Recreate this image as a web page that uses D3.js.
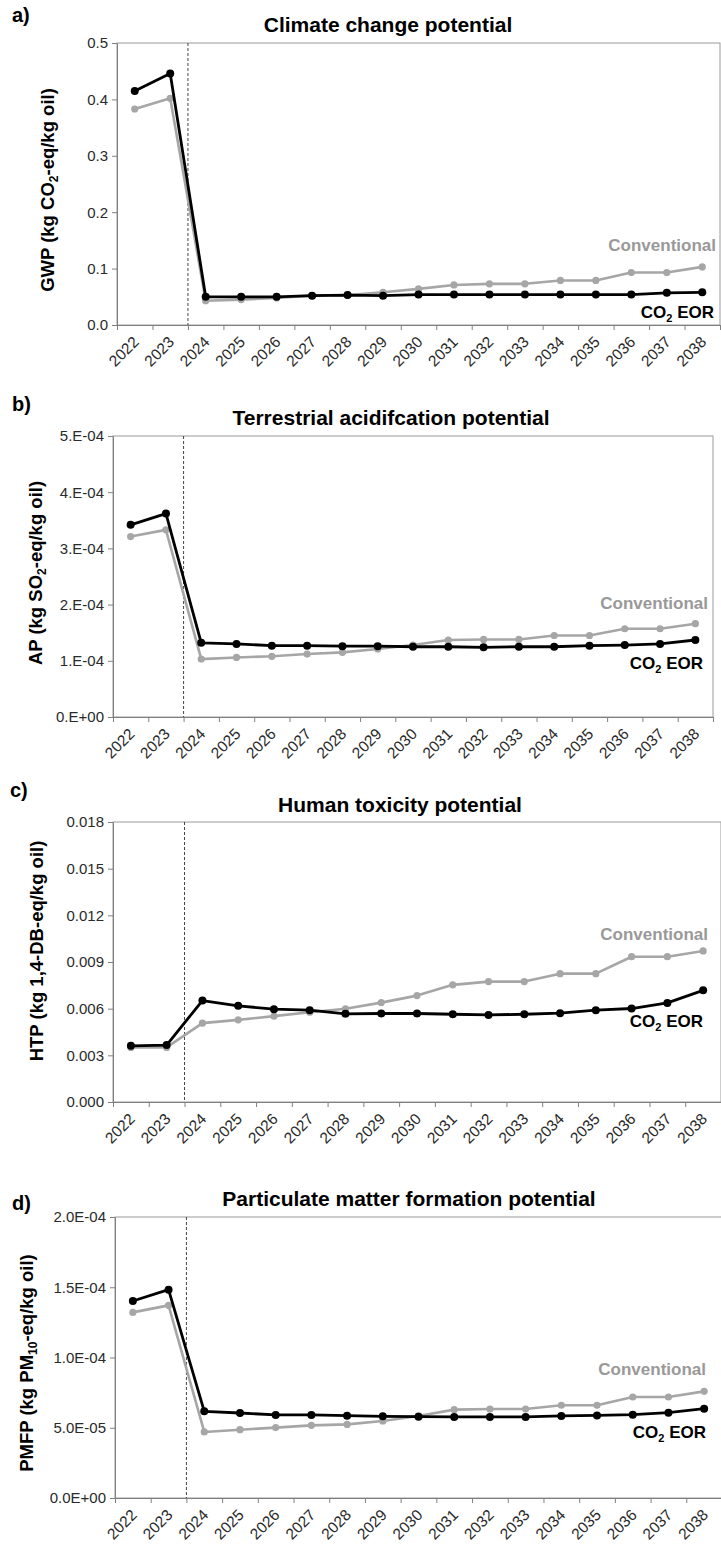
<!DOCTYPE html>
<html>
<head>
<meta charset="utf-8">
<script src="https://cdn.jsdelivr.net/npm/d3@7"></script>
<style>
body { margin: 0; background: #fff; }
svg { display: block; font-family: "Liberation Sans", Arial, sans-serif; }
</style>
</head>
<body>
<script>
var width = 721, height = 1544;

var years = ["2022","2023","2024","2025","2026","2027","2028","2029","2030","2031","2032","2033","2034","2035","2036","2037","2038"];

// a) climate change
var gwpConventional = [0.383,0.402,0.043,0.045,0.048,0.052,0.053,0.058,0.064,0.071,0.073,0.073,0.079,0.079,0.093,0.093,0.103];
var gwpEor = [0.415,0.446,0.050,0.050,0.050,0.052,0.053,0.052,0.054,0.054,0.054,0.054,0.054,0.054,0.054,0.057,0.058];
var gwpTicks = [0,0.1,0.2,0.3,0.4,0.5];
var gwpTickLabels = ["0.0","0.1","0.2","0.3","0.4","0.5"];

// b) acidification
var apConventional = [3.21e-4,3.33e-4,1.03e-4,1.06e-4,1.08e-4,1.12e-4,1.15e-4,1.21e-4,1.28e-4,1.37e-4,1.38e-4,1.38e-4,1.45e-4,1.45e-4,1.57e-4,1.57e-4,1.66e-4];
var apEor = [3.42e-4,3.62e-4,1.32e-4,1.30e-4,1.27e-4,1.27e-4,1.26e-4,1.26e-4,1.25e-4,1.25e-4,1.24e-4,1.25e-4,1.25e-4,1.27e-4,1.28e-4,1.30e-4,1.37e-4];
var apTicks = [0,1e-4,2e-4,3e-4,4e-4,5e-4];
var apTickLabels = ["0.E+00","1.E-04","2.E-04","3.E-04","4.E-04","5.E-04"];

// c) human toxicity
var htpConventional = [0.00351,0.00351,0.00507,0.00528,0.00552,0.00577,0.00599,0.00639,0.00684,0.00753,0.00774,0.00774,0.00825,0.00825,0.00934,0.00934,0.00971];
var htpEor = [0.00361,0.00366,0.00652,0.00618,0.00597,0.00590,0.00567,0.00569,0.00569,0.00564,0.00560,0.00564,0.00571,0.00590,0.00601,0.00637,0.00718];
var htpTicks = [0,0.003,0.006,0.009,0.012,0.015,0.018];
var htpTickLabels = ["0.000","0.003","0.006","0.009","0.012","0.015","0.018"];

// d) particulate matter
var pmfpConventional = [1.321e-4,1.371e-4,0.470e-4,0.486e-4,0.501e-4,0.517e-4,0.524e-4,0.548e-4,0.584e-4,0.629e-4,0.633e-4,0.633e-4,0.660e-4,0.660e-4,0.719e-4,0.719e-4,0.759e-4];
var pmfpEor = [1.402e-4,1.483e-4,0.617e-4,0.605e-4,0.591e-4,0.591e-4,0.586e-4,0.581e-4,0.579e-4,0.577e-4,0.577e-4,0.577e-4,0.584e-4,0.588e-4,0.593e-4,0.607e-4,0.636e-4];
var pmfpTicks = [0,5e-5,1e-4,1.5e-4,2e-4];
var pmfpTickLabels = ["0.0E+00","5.0E-05","1.0E-04","1.5E-04","2.0E-04"];

var panels = [
  {tag:"a)", title:"Climate change potential", yTitle:[["GWP (kg CO",0],["2",1],["-eq/kg oil)",0]],
   conv:gwpConventional, eor:gwpEor, ticks:gwpTicks, tickLabels:gwpTickLabels,
   top:43, bottom:325, left:117, right:720, titleX:388, titleY:32, tagX:12, tagY:22,
   yTitleX:48, yTitleY:190, convLabel:0.1317, eorLabel:0.0119, convRight:716, eorRight:714},
  {tag:"b)", title:"Terrestrial acidifcation potential", yTitle:[["AP (kg SO",0],["2",1],["-eq/kg oil)",0]],
   conv:apConventional, eor:apEor, ticks:apTicks, tickLabels:apTickLabels,
   top:436, bottom:717, left:113, right:713, titleX:391, titleY:425, tagX:12, tagY:411,
   yTitleX:36, yTitleY:573, convLabel:1.93e-4, eorLabel:0.86e-4, convRight:708, eorRight:703},
  {tag:"c)", title:"Human toxicity potential", yTitle:[["HTP (kg 1,4-DB-eq/kg oil)",0]],
   conv:htpConventional, eor:htpEor, ticks:htpTicks, tickLabels:htpTickLabels,
   top:822, bottom:1102, left:113, right:721, titleX:400, titleY:812, tagX:10, tagY:797,
   yTitleX:37, yTitleY:951, convLabel:0.01041, eorLabel:0.00481, convRight:708, eorRight:703},
  {tag:"d)", title:"Particulate matter formation potential", yTitle:[["PMFP (kg PM",0],["10",1],["-eq/kg oil)",0]],
   conv:pmfpConventional, eor:pmfpEor, ticks:pmfpTicks, tickLabels:pmfpTickLabels,
   top:1217, bottom:1498, left:115, right:722, titleX:409, titleY:1206, tagX:12, tagY:1210,
   yTitleX:27, yTitleY:1363, convLabel:0.875e-4, eorLabel:0.426e-4, convRight:706, eorRight:706}
];

var grey = "#a6a6a6";
var axisColor = "#808080";

var svg = d3.select("body")
.append("svg")
.attr("width", width)
.attr("height", height);

panels.forEach(drawPanel);

function drawPanel(p){
  var g = svg.append("g");

  var x = d3.scaleBand().domain(years).range([p.left, p.right]).padding(0);
  var xEdge = d3.scaleLinear().domain([0, years.length]).range([p.left, p.right]);
  var y = d3.scaleLinear().domain([0, p.ticks[p.ticks.length-1]]).range([p.bottom, p.top]);

  // plot area frame
  g.append("rect")
    .attr("x", p.left).attr("y", p.top)
    .attr("width", p.right - p.left).attr("height", p.bottom - p.top)
    .attr("fill", "none").attr("stroke", "#9a9a9a").attr("stroke-width", 1);

  // y axis
  var yAxis = g.append("g")
    .attr("transform", "translate(" + p.left + ",0)")
    .call(d3.axisLeft(y).tickValues(p.ticks)
      .tickFormat(function(d,i){ return p.tickLabels[i]; })
      .tickSizeInner(5).tickSizeOuter(0).tickPadding(4));
  yAxis.select(".domain").attr("stroke", axisColor);
  yAxis.selectAll(".tick line").attr("stroke", axisColor);
  yAxis.selectAll(".tick text")
    .attr("fill", "#2a2a2a").attr("font-size", 15)
    .attr("font-family", "Liberation Sans, Arial, sans-serif");

  // x axis, ticks sit between the years
  var xAxis = g.append("g")
    .attr("transform", "translate(0," + p.bottom + ")")
    .call(d3.axisBottom(xEdge).tickValues(d3.range(years.length + 1))
      .tickFormat("").tickSizeInner(5).tickSizeOuter(0));
  xAxis.select(".domain").attr("stroke", axisColor);
  xAxis.selectAll(".tick line").attr("stroke", axisColor);

  g.selectAll(".yearLabel")
    .data(years)
    .enter().append("text")
    .attr("class", "yearLabel")
    .attr("transform", function(d){
      var cx = x(d) + x.bandwidth()/2 + 5;
      return "translate(" + cx + "," + (p.bottom + 18) + ") rotate(-45)";
    })
    .attr("text-anchor", "end")
    .attr("font-size", 15.5)
    .attr("fill", "#2a2a2a")
    .text(function(d){ return d; });

  // dashed separator between 2023 and 2024
  g.append("line")
    .attr("x1", x("2024")).attr("x2", x("2024"))
    .attr("y1", p.top).attr("y2", p.bottom)
    .attr("stroke", "#444").attr("stroke-width", 1)
    .attr("stroke-dasharray", "3,2");

  var line = d3.line()
    .x(function(d,i){ return x(years[i]) + x.bandwidth()/2; })
    .y(function(d){ return y(d); });

  drawSeries(g, p.conv, grey, 2.6, 3.6, line, x, y);
  drawSeries(g, p.eor, "#000", 2.8, 4, line, x, y);

  // series labels
  g.append("text")
    .attr("x", p.convRight).attr("y", y(p.convLabel))
    .attr("text-anchor", "end").attr("font-size", 17).attr("font-weight", "bold")
    .attr("fill", "#999")
    .text("Conventional");

  var eorLabel = g.append("text")
    .attr("x", p.eorRight).attr("y", y(p.eorLabel))
    .attr("text-anchor", "end").attr("font-size", 17).attr("font-weight", "bold")
    .attr("fill", "#000");
  eorLabel.append("tspan").text("CO");
  eorLabel.append("tspan").attr("font-size", 11).attr("dy", 4).text("2");
  eorLabel.append("tspan").attr("dy", -4).text(" EOR");

  // titles
  g.append("text")
    .attr("x", p.titleX).attr("y", p.titleY)
    .attr("text-anchor", "middle").attr("font-size", 21).attr("font-weight", "bold")
    .text(p.title);

  g.append("text")
    .attr("x", p.tagX).attr("y", p.tagY)
    .attr("font-size", 20).attr("font-weight", "bold")
    .text(p.tag);

  var yt = g.append("text")
    .attr("transform", "translate(" + p.yTitleX + "," + p.yTitleY + ") rotate(-90)")
    .attr("text-anchor", "middle").attr("dy", "0.35em")
    .attr("font-size", 18.5).attr("font-weight", "bold");
  p.yTitle.forEach(function(part){
    var ts = yt.append("tspan").text(part[0]);
    if (part[1]) ts.attr("font-size", 12).attr("dy", 4);
    else if (yt.selectAll("tspan").size() > 1) ts.attr("dy", -4);
  });
}

function drawSeries(g, values, color, lw, r, line, x, y){
  g.append("path")
    .datum(values)
    .attr("d", line)
    .attr("fill", "none")
    .attr("stroke", color)
    .attr("stroke-width", lw)
    .attr("stroke-linejoin", "round");
  g.selectAll(null)
    .data(values)
    .enter().append("circle")
    .attr("cx", function(d,i){ return x(years[i]) + x.bandwidth()/2; })
    .attr("cy", function(d){ return y(d); })
    .attr("r", r)
    .attr("fill", color);
}
</script>
</body>
</html>
